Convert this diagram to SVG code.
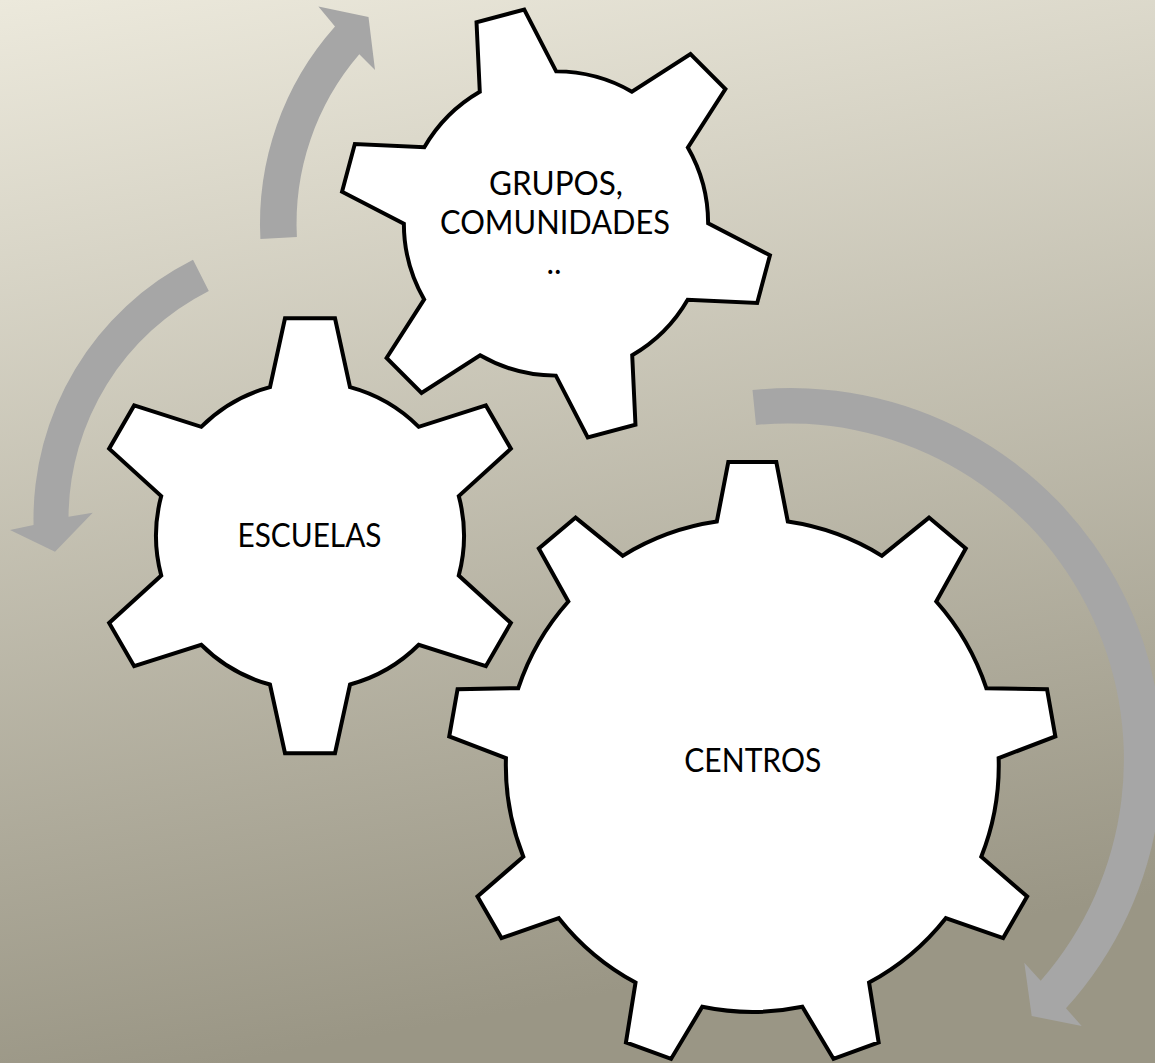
<svg xmlns="http://www.w3.org/2000/svg" xmlns:xlink="http://www.w3.org/1999/xlink" width="1155" height="1063" viewBox="0 0 1155 1063">
  <defs>
    <linearGradient id="bg" x1="0" y1="0" x2="0.2" y2="1">
      <stop offset="0" stop-color="#ece9dc"/>
      <stop offset="1" stop-color="#9a9685"/>
    </linearGradient>
    <path id="gear6" d="M-40,-148.7 L-25,-217.5 L25,-217.5 L40,-148.7 A154,154 0 0 1 108.77,-108.99 L175.86,-130.4 L200.86,-87.1 L148.77,-39.71 A154,154 0 0 1 148.77,39.71 L200.86,87.1 L175.86,130.4 L108.77,108.99 A154,154 0 0 1 40,148.7 L25,217.5 L-25,217.5 L-40,148.7 A154,154 0 0 1 -108.77,108.99 L-175.86,130.4 L-200.86,87.1 L-148.77,39.71 A154,154 0 0 1 -148.77,-39.71 L-200.86,-87.1 L-175.86,-130.4 L-108.77,-108.99 A154,154 0 0 1 -40,-148.7 Z"/>
  </defs>
  <style>
    .gear { fill: #ffffff; stroke: #000000; stroke-width: 4; stroke-linejoin: miter; }
    .arrow { fill: #a6a6a6; stroke: none; }
    .label { font-family: Lato, "Liberation Sans", sans-serif; font-size: 32px; fill: #000000; text-anchor: middle; }
  </style>
  <rect x="0" y="0" width="1155" height="1063" fill="url(#bg)"/>

  <g id="connectors">
    <path class="arrow" d="M260.4,239 A296,296 0 0 1 335,26.6 L318.4,6.6 L368.5,17 L375,70 L359.3,54.3 A259.5,259.5 0 0 0 296.9,237.1 Z"/>
    <path class="arrow" d="M193,259.7 A290.5,290.5 0 0 0 33.56,525.08 L10,530 L55,551.7 L92.7,512.7 L68.51,516.77 A255.5,255.5 0 0 1 208.8,290.94 Z"/>
    <path class="arrow" d="M752.5,390.1 A371,371 0 0 1 1066,1008.3 L1081.7,1026 L1031.7,1016 L1024.3,962.7 L1040.7,980.7 A336,336 0 0 0 756,424.9 Z"/>
  </g>

  <g id="gear-grupos">
    <use xlink:href="#gear6" href="#gear6" class="gear" transform="translate(556,223.5) rotate(-15) scale(0.988)"/>
    <text class="label" x="556" y="194.5" textLength="134" lengthAdjust="spacingAndGlyphs">GRUPOS,</text>
    <text class="label" x="555" y="233.5" textLength="230" lengthAdjust="spacingAndGlyphs">COMUNIDADES</text>
    <text class="label" x="554" y="274">..</text>
  </g>

  <g id="gear-escuelas">
    <use xlink:href="#gear6" href="#gear6" class="gear" transform="translate(310,535.8)"/>
    <text class="label" x="309.5" y="546.7" textLength="144" lengthAdjust="spacingAndGlyphs">ESCUELAS</text>
  </g>

  <g id="gear-centros">
    <path class="gear" d="M716.8,521.6 L728.3,462 L776.3,462 L787.8,521.6 A246.5,246.5 0 0 1 881.89,555.85 L929.01,517.59 L965.77,548.45 L936.27,601.49 A246.5,246.5 0 0 1 986.33,688.2 L1047.02,689.17 L1055.36,736.45 L998.65,758.12 A246.5,246.5 0 0 1 981.27,856.71 L1027.13,896.47 L1003.13,938.03 L945.77,918.19 A246.5,246.5 0 0 1 869.07,982.55 L878.65,1042.49 L833.55,1058.91 L802.35,1006.83 A246.5,246.5 0 0 1 702.25,1006.83 L671.05,1058.91 L625.95,1042.49 L635.53,982.55 A246.5,246.5 0 0 1 558.83,918.19 L501.47,938.03 L477.47,896.47 L523.33,856.71 A246.5,246.5 0 0 1 505.95,758.12 L449.24,736.45 L457.58,689.17 L518.27,688.2 A246.5,246.5 0 0 1 568.33,601.49 L538.83,548.45 L575.59,517.59 L622.71,555.85 A246.5,246.5 0 0 1 716.8,521.6 Z"/>
    <text class="label" x="752.8" y="771.7" textLength="137" lengthAdjust="spacingAndGlyphs">CENTROS</text>
  </g>
</svg>
